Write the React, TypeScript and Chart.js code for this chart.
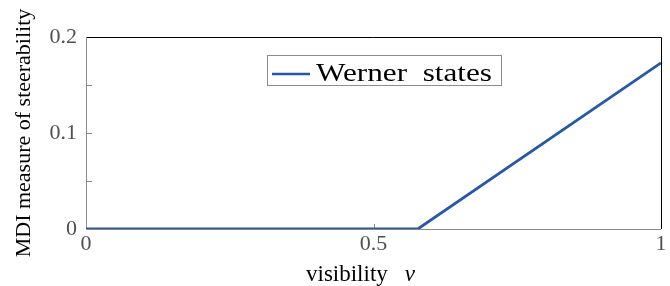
import React, { useEffect, useRef } from "react";
import { Chart, registerables } from "chart.js";

Chart.register(...registerables);

const visibility = [0, 0.577, 1];
const steerability = [0, 0, 0.173];
const seriesLabel = "Werner  states";
const xTickValues = [0, 0.5, 1];
const yTickValues = [0, 0.05, 0.1, 0.15, 0.2];
const xTitleMain = "visibility";
const xTitleVar = "v";
const yTitle = "MDI measure of steerability";

const SERIF = "'Liberation Serif', 'Times New Roman', serif";
const LINE_COLOR = "#2758a8";
const AXIS_GRAY = "#8a8a8a";
const LABEL_GRAY = "#505050";

const framePlugin = {
  id: "frame",
  beforeDatasetsDraw(chart: any) {
    const { ctx, chartArea, scales } = chart;
    const { left, right, top, bottom } = chartArea;
    ctx.save();
    ctx.lineWidth = 1;
    ctx.strokeStyle = "#000";
    ctx.beginPath();
    ctx.moveTo(left, top + 0.5);
    ctx.lineTo(right + 0.5, top + 0.5);
    ctx.lineTo(right + 0.5, bottom);
    ctx.stroke();
    ctx.strokeStyle = AXIS_GRAY;
    ctx.beginPath();
    ctx.moveTo(left + 0.5, top);
    ctx.lineTo(left + 0.5, bottom + 0.5);
    ctx.lineTo(right, bottom + 0.5);
    ctx.stroke();
    ctx.beginPath();
    yTickValues.forEach((v) => {
      if (v === scales.y.min || v === scales.y.max) return;
      const y = Math.round(scales.y.getPixelForValue(v)) + 0.5;
      ctx.moveTo(left, y);
      ctx.lineTo(left + 6, y);
    });
    xTickValues.forEach((v) => {
      if (v === scales.x.min || v === scales.x.max) return;
      const x = Math.round(scales.x.getPixelForValue(v)) + 0.5;
      ctx.moveTo(x, bottom);
      ctx.lineTo(x, bottom - 5);
    });
    ctx.stroke();
    ctx.restore();
  },
  afterDraw(chart: any) {
    const { ctx, chartArea } = chart;
    ctx.save();
    ctx.fillStyle = "#000";
    ctx.textBaseline = "alphabetic";
    ctx.textAlign = "left";
    ctx.font = `23px ${SERIF}`;
    const wMain = ctx.measureText(xTitleMain).width;
    ctx.font = `italic 23px ${SERIF}`;
    const wVar = ctx.measureText(xTitleVar).width;
    const gap = 17;
    const total = wMain + gap + wVar;
    const cx = (chartArea.left + chartArea.right) / 2 - 13;
    const x0 = cx - total / 2;
    const baseY = chart.height - 5;
    ctx.font = `23px ${SERIF}`;
    ctx.fillText(xTitleMain, x0, baseY);
    ctx.font = `italic 23px ${SERIF}`;
    ctx.fillText(xTitleVar, x0 + wMain + gap, baseY);

    const bx = 267, by = 55, bw = 234, bh = 30;
    ctx.fillStyle = "#fff";
    ctx.fillRect(bx, by, bw, bh);
    ctx.strokeStyle = "#8c8c8c";
    ctx.lineWidth = 1;
    ctx.strokeRect(bx + 0.5, by + 0.5, bw, bh);
    ctx.strokeStyle = LINE_COLOR;
    ctx.lineWidth = 2.5;
    ctx.beginPath();
    ctx.moveTo(bx + 5, by + 19);
    ctx.lineTo(bx + 43, by + 19);
    ctx.stroke();
    ctx.fillStyle = "#000";
    ctx.font = `25px ${SERIF}`;
    ctx.textBaseline = "alphabetic";
    const tw = ctx.measureText(seriesLabel).width;
    const target = 176;
    ctx.translate(bx + 49, by + 26);
    ctx.scale(target / tw, 1);
    ctx.fillText(seriesLabel, 0, 0);
    ctx.restore();
  },
};

export default function App() {
  const ref = useRef<HTMLCanvasElement | null>(null);
  useEffect(() => {
    if (!ref.current) return;
    const chart = new Chart(ref.current, {
      type: "line",
      data: {
        datasets: [
          {
            label: seriesLabel,
            data: visibility.map((x, i) => ({ x, y: steerability[i] })),
            borderColor: LINE_COLOR,
            borderWidth: 2.8,
            pointRadius: 0,
            fill: false,
            tension: 0,
          },
        ],
      },
      options: {
        responsive: false,
        animation: false,
        layout: { padding: { top: 37, right: 9, left: 0, bottom: 0 } },
        plugins: { legend: { display: false }, tooltip: { enabled: false } },
        scales: {
          x: {
            type: "linear",
            min: 0,
            max: 1,
            afterFit: (s: any) => {
              s.height = 57;
            },
            afterBuildTicks: (s: any) => {
              s.ticks = xTickValues.map((v) => ({ value: v }));
            },
            grid: { display: false, drawTicks: false },
            border: { display: false },
            ticks: {
              padding: 2,
              color: LABEL_GRAY,
              font: { family: SERIF, size: 22 },
              maxRotation: 0,
              callback: (v: any) => String(v),
            },
          },
          y: {
            type: "linear",
            min: 0,
            max: 0.2,
            afterFit: (s: any) => {
              s.width = 86;
            },
            afterBuildTicks: (s: any) => {
              s.ticks = yTickValues.map((v) => ({ value: v }));
            },
            grid: { display: false, drawTicks: false },
            border: { display: false },
            title: {
              display: true,
              text: yTitle,
              color: "#000",
              font: { family: SERIF, size: 22 },
              padding: { top: 11, bottom: 0 },
            },
            ticks: {
              padding: 9,
              color: LABEL_GRAY,
              font: { family: SERIF, size: 22 },
              callback: (v: any) => {
                const n = Number(v);
                if (Math.abs(n * 10 - Math.round(n * 10)) > 1e-9) return "";
                return String(Math.round(n * 10) / 10);
              },
            },
          },
        },
      },
      plugins: [framePlugin],
    });
    return () => chart.destroy();
  }, []);
  return (
    <div style={{ position: "absolute", left: 0, top: 0, width: 670, height: 286, background: "#fff" }}>
      <canvas ref={ref} width={670} height={286} />
    </div>
  );
}
